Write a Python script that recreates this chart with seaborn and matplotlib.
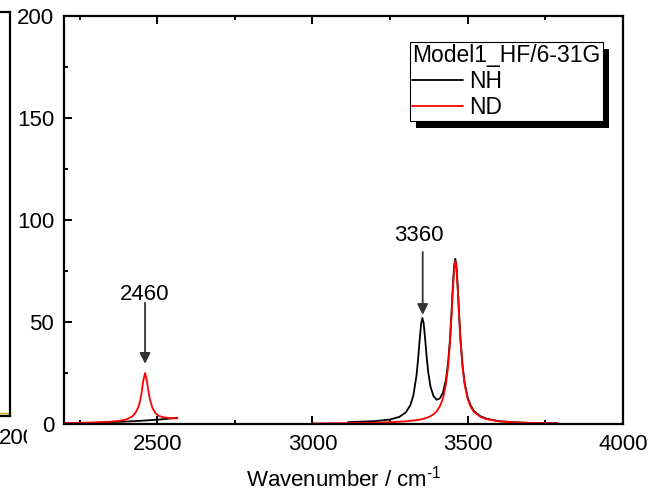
import pandas as pd
import matplotlib.pyplot as plt
import seaborn as sns
from matplotlib.lines import Line2D
from matplotlib.patches import Rectangle
from matplotlib.ticker import MultipleLocator
from matplotlib.transforms import Bbox

# Espectro NH (curva negra), dos tramos
nh_x_a = [2200, 2250, 2300, 2350, 2400, 2450, 2500, 2530, 2565]
nh_y_a = [0.2, 0.4, 0.6, 0.9, 1.2, 1.6, 2.1, 2.5, 3.0]
nh_x_b = [3115, 3150, 3200, 3250, 3280, 3300, 3315, 3325, 3335, 3340, 3345, 3350,
          3354, 3358, 3363, 3368, 3373, 3380, 3390, 3400, 3410, 3420, 3430, 3437,
          3443, 3448, 3452, 3456, 3460, 3464, 3468, 3472, 3477, 3483, 3490, 3500,
          3510, 3520, 3540, 3560, 3600, 3650, 3700, 3790]
nh_y_b = [0.9, 1.1, 1.4, 2.2, 3.5, 5.6, 9.1, 14.0, 23.7, 31.4, 40.8, 49.2,
          52.0, 49.5, 41.5, 32.4, 25.2, 18.4, 13.6, 11.9, 12.5, 15.3, 21.8, 30.3,
          41.8, 55.0, 67.0, 77.2, 81.0, 77.0, 66.6, 54.4, 40.9, 29.2, 20.2, 12.9,
          8.9, 6.4, 3.9, 2.6, 1.4, 0.85, 0.55, 0.3]

# Espectro ND (curva roja), dos tramos
nd_x_a = [2200, 2250, 2300, 2350, 2380, 2400, 2420, 2430, 2440, 2445, 2450, 2455,
          2461, 2467, 2472, 2477, 2485, 2495, 2505, 2520, 2540, 2565]
nd_y_a = [0.5, 0.6, 0.8, 1.1, 1.6, 2.2, 3.7, 5.4, 8.5, 11.3, 15.4, 21.0,
          25.0, 21.0, 15.8, 11.8, 7.8, 5.2, 4.0, 3.3, 2.9, 2.8]
nd_x_b = [3000, 3100, 3200, 3250, 3300, 3340, 3360, 3380, 3390, 3400, 3410, 3420,
          3430, 3437, 3443, 3448, 3452, 3456, 3460, 3464, 3468, 3472, 3477, 3483,
          3490, 3500, 3510, 3520, 3540, 3560, 3600, 3650, 3700, 3790]
nd_y_b = [0.3, 0.4, 0.6, 0.9, 1.3, 2.0, 2.6, 3.8, 4.8, 6.2, 8.6, 12.4,
          19.6, 28.5, 40.2, 53.6, 65.7, 76.0, 80.0, 75.8, 65.5, 53.4, 40.0, 28.3,
          19.4, 12.2, 8.3, 5.9, 3.6, 2.4, 1.3, 0.8, 0.55, 0.3]

serie_orden = ['NH', 'ND']
colores = {'NH': 'black', 'ND': 'red'}
titulo_leyenda = 'Model1_HF/6-31G'
etiqueta_x = r'Wavenumber / cm$^{\text{-1}}$'

tramos = []
for serie, tramo, xs, ys in [('NH', 'a', nh_x_a, nh_y_a), ('NH', 'b', nh_x_b, nh_y_b),
                             ('ND', 'a', nd_x_a, nd_y_a), ('ND', 'b', nd_x_b, nd_y_b)]:
    tramos.append(pd.DataFrame({'x': xs, 'y': ys, 'serie': serie, 'tramo': tramo}))
datos = pd.concat(tramos, ignore_index=True)

sns.set_style('ticks')
plt.rcParams['font.family'] = ['Liberation Sans', 'DejaVu Sans']
plt.rcParams['mathtext.default'] = 'regular'
plt.rcParams['mathtext.fontset'] = 'custom'
plt.rcParams['mathtext.rm'] = 'Liberation Sans'
for clave in ['text.color', 'axes.labelcolor', 'xtick.color', 'ytick.color', 'axes.edgecolor']:
    plt.rcParams[clave] = 'black'
fs = 16
fs_ley = 16.5

fig = plt.figure(figsize=(6.52, 4.96), dpi=100)

# Panel vecino recortado a la izquierda
ax0 = fig.add_axes([(9.5 - 200) / 652, 80 / 496, 200 / 652, 404 / 496])
ax0.set_xlim(0, 1)
ax0.set_ylim(0, 1)
ax0.plot([0, 1], [0.0075, 0.0075], color='#c8b400', lw=1.0)
ax0.plot([0, 1], [0.0035, 0.0035], color='#c03020', lw=0.8)
ax0.set_xticks([])
ax0.set_yticks([])
for s in ax0.spines.values():
    s.set_linewidth(1.6)
t0 = fig.text(-1 / 652, 58 / 496, '200', fontsize=fs, ha='left', va='center')
t0.set_clip_box(Bbox([[0, 0], [27, 496]]))
t0.set_clip_on(True)

# Panel principal
ax = fig.add_axes([64 / 652, 72 / 496, 559 / 652, 408 / 496])
sns.lineplot(data=datos, x='x', y='y', hue='serie', hue_order=serie_orden,
             units='tramo', estimator=None, palette=colores, linewidth=1.3,
             legend=False, ax=ax)

ax.set_xlim(2200, 4000)
ax.set_ylim(0, 200)
ax.set_xticks([2500, 3000, 3500, 4000])
ax.set_yticks([0, 50, 100, 150, 200])
ax.xaxis.set_minor_locator(MultipleLocator(250))
ax.yaxis.set_minor_locator(MultipleLocator(25))
ax.tick_params(axis='both', which='both', direction='in', top=True, right=False,
               labelsize=fs, width=1.4)
ax.tick_params(axis='both', which='major', length=6)
ax.tick_params(axis='both', which='minor', length=3)
ax.tick_params(axis='x', pad=7)
ax.tick_params(axis='y', pad=7)
for s in ax.spines.values():
    s.set_visible(True)
    s.set_linewidth(1.6)
ax.set_xlabel(etiqueta_x, fontsize=fs, labelpad=8)
ax.set_ylabel('')

# Flechas de los picos
flecha = dict(arrowstyle='-|>', color='#333333', lw=1.3, mutation_scale=16,
              shrinkA=0, shrinkB=0)
ax.annotate('', xy=(2461, 29.5), xytext=(2461, 59.5), arrowprops=flecha)
ax.text(2461, 63.5, '2460', ha='center', va='center', fontsize=fs)
ax.annotate('', xy=(3355, 53.5), xytext=(3355, 84.3), arrowprops=flecha)
ax.text(3342, 92.2, '3360', ha='center', va='center', fontsize=fs)

# Leyenda con sombra negra
handles = [Line2D([], [], color=colores[s], lw=1.3) for s in serie_orden]
leg = ax.legend(handles, serie_orden, title=titulo_leyenda, loc='upper right',
                bbox_to_anchor=(0.964, 0.936), borderaxespad=0, frameon=True,
                fancybox=False, framealpha=1, edgecolor='black', fontsize=fs_ley,
                title_fontsize=fs_ley, alignment='left', handlelength=2.2,
                handletextpad=0.3, labelspacing=0.12, borderpad=0.1)
leg.get_frame().set_linewidth(0.8)

fig.canvas.draw()
bb = leg.get_window_extent().transformed(ax.transAxes.inverted())
sombra = Rectangle((bb.x0 + 6 / 559, bb.y0 - 7 / 408), bb.width, bb.height,
                   transform=ax.transAxes, facecolor='black', edgecolor='none',
                   zorder=4.5, clip_on=False)
ax.add_patch(sombra)

plt.savefig('out.png', dpi=100)
